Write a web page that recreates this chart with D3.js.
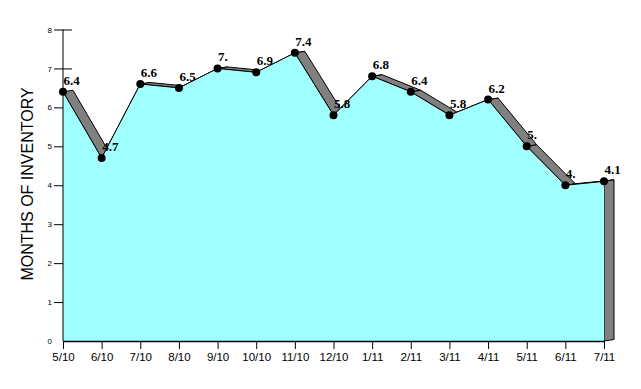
<!DOCTYPE html>
<html>
<head>
<meta charset="utf-8">
<script src="https://cdn.jsdelivr.net/npm/d3@7"></script>
<style>
  body { margin: 0; background: #fff; }
  svg { display: block; }
</style>
</head>
<body>
<script>
// data
const months = ["5/10","6/10","7/10","8/10","9/10","10/10","11/10","12/10","1/11","2/11","3/11","4/11","5/11","6/11","7/11"];
const inventory = [6.4, 4.7, 6.6, 6.5, 7.0, 6.9, 7.4, 5.8, 6.8, 6.4, 5.8, 6.2, 5.0, 4.0, 4.1];
const pointLabels = ["6.4","4.7","6.6","6.5","7.","6.9","7.4","5.8","6.8","6.4","5.8","6.2","5.","4.","4.1"];
const yTicks = [0, 1, 2, 3, 4, 5, 6, 7, 8];

const w = 641, h = 389;
const plotLeft = 63, plotRight = 604, plotTop = 29.5, plotBottom = 341;
const depth = {dx: 10, dy: -1.5};

const svg = d3.select("body").append("svg")
  .attr("width", w)
  .attr("height", h);

const xScale = d3.scalePoint()
  .domain(months)
  .range([plotLeft, plotRight]);

const yScale = d3.scaleLinear()
  .domain([0, 8])
  .range([plotBottom, plotTop]);

const pts = inventory.map((v, i) => [xScale(months[i]), yScale(v)]);

// y axis: ticks go both sides, the area covers the inner part
const yAxis = d3.axisLeft(yScale).tickValues(yTicks).tickSize(9).tickPadding(2).tickSizeOuter(0);
const gy = svg.append("g")
  .attr("transform", "translate(" + plotLeft + ",0)")
  .call(yAxis);
gy.select(".domain").remove();
gy.selectAll(".tick line").attr("x2", 9).attr("x1", -9).attr("stroke", "#000");
gy.selectAll(".tick text")
  .attr("font-family", "Liberation Sans, Arial, sans-serif")
  .attr("font-size", 8)
  .attr("fill", "#000");
gy.selectAll(".tick").filter(d => d === 0).select("line").remove();

// back ribbons (the 3D depth of the top surface)
const ribbons = svg.append("g");
for (let i = 0; i < pts.length - 1; i++) {
  const a = pts[i], b = pts[i + 1];
  ribbons.append("path")
    .attr("d", d3.line()([a, b, [b[0] + depth.dx, b[1] + depth.dy], [a[0] + depth.dx, a[1] + depth.dy]]) + "Z")
    .attr("fill", "#808080")
    .attr("stroke", "#000")
    .attr("stroke-width", 1);
}
const last = pts[pts.length - 1];
ribbons.append("path")
  .attr("d", d3.line()([last, [last[0] + depth.dx, last[1] + depth.dy],
    [last[0] + depth.dx, plotBottom + depth.dy], [last[0], plotBottom]]) + "Z")
  .attr("fill", "#808080")
  .attr("stroke", "#000")
  .attr("stroke-width", 1);

// front area
const area = d3.area()
  .x((d, i) => xScale(months[i]))
  .y0(plotBottom)
  .y1(d => yScale(d));
svg.append("path")
  .datum(inventory)
  .attr("d", area)
  .attr("fill", "#a0ffff");
svg.append("path")
  .datum(inventory)
  .attr("d", d3.line().x((d, i) => xScale(months[i])).y(d => yScale(d)))
  .attr("fill", "none")
  .attr("stroke", "#000")
  .attr("stroke-width", 1);

// axis lines
svg.append("line")
  .attr("x1", plotLeft).attr("x2", plotLeft)
  .attr("y1", plotTop).attr("y2", plotBottom)
  .attr("stroke", "#000");

const xAxis = d3.axisBottom(xScale).tickSize(8).tickPadding(4).tickSizeOuter(0);
const gx = svg.append("g")
  .attr("transform", "translate(0," + plotBottom + ")")
  .call(xAxis);
gx.select(".domain").attr("stroke", "#000").attr("stroke-width", 1.5);
gx.selectAll(".tick text")
  .attr("font-family", "Liberation Sans, Arial, sans-serif")
  .attr("font-size", 11.5)
  .attr("fill", "#000");

// markers and value labels
svg.selectAll("circle.pt")
  .data(inventory)
  .enter()
  .append("circle")
  .attr("class", "pt")
  .attr("cx", (d, i) => xScale(months[i]))
  .attr("cy", d => yScale(d))
  .attr("r", 4)
  .attr("fill", "#000");

svg.selectAll("text.lbl")
  .data(inventory)
  .enter()
  .append("text")
  .attr("class", "lbl")
  .attr("x", (d, i) => xScale(months[i]) + 0.5)
  .attr("y", d => yScale(d) - 7)
  .attr("font-family", "Liberation Serif, Times New Roman, serif")
  .attr("font-weight", "bold")
  .attr("font-size", 13)
  .attr("fill", "#000")
  .text((d, i) => pointLabels[i]);

// y title
svg.append("text")
  .attr("transform", "translate(27,184) rotate(-90)")
  .attr("text-anchor", "middle")
  .attr("dominant-baseline", "central")
  .attr("font-family", "Liberation Sans, Arial, sans-serif")
  .attr("font-size", 16)
  .attr("fill", "#000")
  .text("MONTHS OF INVENTORY");
</script>
</body>
</html>
